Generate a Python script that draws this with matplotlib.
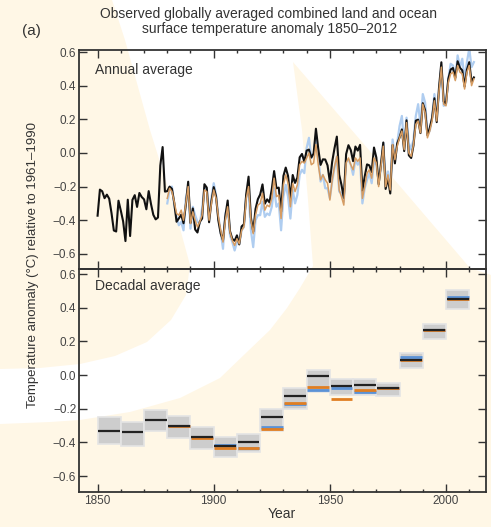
import numpy as np
import matplotlib
matplotlib.use("Agg")
import matplotlib.pyplot as plt
from matplotlib.patches import Polygon, Rectangle
from matplotlib.ticker import MultipleLocator, FuncFormatter

# ---------------- data ----------------
had_years = list(range(1850, 2013))
had_annual = [
    -0.373, -0.218, -0.228, -0.269, -0.248, -0.272, -0.358, -0.461, -0.467, -0.284,
    -0.343, -0.407, -0.524, -0.278, -0.494, -0.279, -0.251, -0.321, -0.238, -0.262,
    -0.276, -0.335, -0.227, -0.304, -0.368, -0.395, -0.384, -0.075, 0.035, -0.230,
    -0.227, -0.200, -0.213, -0.296, -0.409, -0.389, -0.367, -0.418, -0.307, -0.171,
    -0.416, -0.330, -0.455, -0.473, -0.410, -0.390, -0.186, -0.206, -0.412, -0.289,
    -0.203, -0.259, -0.402, -0.479, -0.520, -0.377, -0.283, -0.465, -0.511, -0.522,
    -0.490, -0.544, -0.437, -0.424, -0.244, -0.141, -0.383, -0.468, -0.333, -0.275,
    -0.247, -0.187, -0.302, -0.276, -0.294, -0.215, -0.108, -0.210, -0.206, -0.350,
    -0.137, -0.087, -0.137, -0.273, -0.131, -0.178, -0.147, -0.026, -0.006, -0.052,
    0.014, 0.020, -0.027, -0.004, 0.144, 0.025, -0.071, -0.038, -0.039, -0.074,
    -0.173, -0.052, 0.028, 0.097, -0.129, -0.190, -0.267, -0.007, 0.046, 0.017,
    -0.049, 0.038, 0.014, 0.048, -0.223, -0.140, -0.068, -0.074, -0.113, 0.032,
    -0.027, -0.186, -0.065, 0.062, -0.214, -0.149, -0.241, 0.047, -0.062, 0.057,
    0.092, 0.140, 0.011, 0.194, -0.014, -0.030, 0.045, 0.192, 0.198, 0.118,
    0.296, 0.254, 0.105, 0.148, 0.208, 0.325, 0.183, 0.390, 0.539, 0.306,
    0.294, 0.441, 0.496, 0.505, 0.447, 0.545, 0.506, 0.491, 0.395, 0.494,
    0.540, 0.422, 0.449,
]

other_years = list(range(1880, 2013))
noaa_annual = [
    -0.27, -0.21, -0.23, -0.29, -0.36, -0.37, -0.34, -0.40, -0.30, -0.20,
    -0.42, -0.35, -0.40, -0.44, -0.41, -0.37, -0.22, -0.23, -0.40, -0.30,
    -0.22, -0.27, -0.38, -0.46, -0.53, -0.40, -0.32, -0.47, -0.52, -0.55,
    -0.51, -0.54, -0.46, -0.44, -0.27, -0.20, -0.40, -0.48, -0.37, -0.31,
    -0.30, -0.24, -0.34, -0.31, -0.32, -0.27, -0.15, -0.26, -0.25, -0.39,
    -0.19, -0.13, -0.18, -0.32, -0.18, -0.23, -0.19, -0.07, -0.05, -0.06,
    -0.03, 0.00, -0.07, -0.06, 0.05, -0.07, -0.16, -0.13, -0.16, -0.18,
    -0.28, -0.16, -0.08, -0.02, -0.22, -0.26, -0.31, -0.06, -0.03, -0.07,
    -0.10, -0.03, -0.05, -0.03, -0.27, -0.20, -0.12, -0.10, -0.15, -0.03,
    -0.06, -0.20, -0.08, 0.04, -0.20, -0.13, -0.22, 0.05, -0.04, 0.04,
    0.09, 0.13, 0.02, 0.18, 0.00, -0.02, 0.05, 0.17, 0.19, 0.12,
    0.29, 0.24, 0.09, 0.13, 0.19, 0.31, 0.19, 0.37, 0.51, 0.29,
    0.28, 0.42, 0.47, 0.48, 0.43, 0.52, 0.48, 0.47, 0.38, 0.48,
    0.52, 0.40, 0.44,
]
giss_annual = [
    -0.30, -0.22, -0.20, -0.31, -0.38, -0.43, -0.41, -0.46, -0.27, -0.20,
    -0.45, -0.32, -0.37, -0.41, -0.42, -0.33, -0.21, -0.21, -0.37, -0.27,
    -0.18, -0.25, -0.38, -0.47, -0.57, -0.36, -0.32, -0.49, -0.53, -0.58,
    -0.53, -0.54, -0.46, -0.44, -0.25, -0.24, -0.46, -0.56, -0.40, -0.37,
    -0.37, -0.29, -0.38, -0.36, -0.37, -0.32, -0.21, -0.32, -0.30, -0.46,
    -0.26, -0.19, -0.26, -0.39, -0.22, -0.30, -0.25, -0.13, -0.10, -0.12,
    0.03, 0.09, -0.03, -0.01, 0.10, -0.01, -0.17, -0.13, -0.21, -0.21,
    -0.27, -0.17, -0.09, -0.02, -0.23, -0.24, -0.29, -0.05, -0.04, -0.07,
    -0.13, -0.04, -0.07, -0.05, -0.30, -0.21, -0.16, -0.12, -0.18, -0.05,
    -0.07, -0.18, -0.09, 0.06, -0.17, -0.11, -0.20, 0.08, -0.03, 0.06,
    0.16, 0.22, 0.04, 0.21, 0.06, 0.02, 0.08, 0.22, 0.29, 0.17,
    0.35, 0.30, 0.12, 0.13, 0.21, 0.35, 0.23, 0.36, 0.51, 0.28,
    0.29, 0.44, 0.53, 0.52, 0.44, 0.58, 0.51, 0.56, 0.44, 0.54,
    0.62, 0.51, 0.54,
]

decades = [1850, 1860, 1870, 1880, 1890, 1900, 1910, 1920, 1930, 1940,
           1950, 1960, 1970, 1980, 1990, 2000]
had_dec = [-0.33, -0.34, -0.265, -0.30, -0.37, -0.42, -0.395, -0.25, -0.125, -0.005,
           -0.065, -0.06, -0.075, 0.09, 0.265, 0.45]
had_dec_hi = [-0.25, -0.28, -0.21, -0.245, -0.31, -0.37, -0.35, -0.20, -0.08, 0.03,
              -0.025, -0.025, -0.05, 0.13, 0.305, 0.505]
had_dec_lo = [-0.41, -0.42, -0.335, -0.375, -0.44, -0.49, -0.46, -0.33, -0.20, -0.10,
              -0.12, -0.12, -0.125, 0.04, 0.215, 0.39]
other_decades = [1880, 1890, 1900, 1910, 1920, 1930, 1940, 1950, 1960, 1970, 1980, 1990, 2000]
noaa_dec = [-0.30, -0.375, -0.435, -0.435, -0.32, -0.165, -0.07, -0.145, -0.09, -0.075, 0.09, 0.265, 0.45]
giss_dec = [-0.30, -0.37, -0.415, -0.435, -0.31, -0.175, -0.09, -0.08, -0.10, -0.08, 0.105, 0.265, 0.465]

title_lines = ["Observed globally averaged combined land and ocean",
               "surface temperature anomaly 1850\u20132012"]
ylabel = "Temperature anomaly (\u00b0C) relative to 1961\u20131990"

# ---------------- style ----------------
W, H = 491, 527
CREAM = "#FFF7E6"
TXT = "#333333"
plt.rcParams["font.family"] = ["Liberation Sans", "DejaVu Sans"]

fig = plt.figure(figsize=(W / 100, H / 100), dpi=100)
fig.patch.set_facecolor(CREAM)


def fp(pts):
    return [(x / W, 1 - y / H) for x, y in pts]


white_pts = [
    (112, 0), (125, 40), (150, 130), (175, 210), (190, 265), (186, 295), (171, 320),
    (147, 342), (115, 356), (80, 364), (40, 368), (0, 369),
    (0, 424), (50, 422), (80, 420), (130, 412), (180, 398), (220, 378), (247, 352),
    (270, 330), (287, 308), (300, 288), (313, 266), (308, 200), (302, 130), (293, 62),
    (375, 157), (470, 268), (491, 275), (491, 0),
]
fig.add_artist(Polygon(fp(white_pts), closed=True, transform=fig.transFigure,
                       facecolor="white", edgecolor="none", zorder=-10))

L, R = 79 / W, 485.5 / W
ax1 = fig.add_axes([L, 1 - 269 / H, R - L, (269 - 50) / H])
ax2 = fig.add_axes([L, 1 - 492 / H, R - L, (492 - 269) / H])

fmt = FuncFormatter(lambda v, p: ("%.1f" % v).replace("-", "\u2212") if abs(v) > 1e-9 else "0.0")
for ax in (ax1, ax2):
    ax.set_facecolor("none")
    ax.set_xlim(1842, 2017)
    ax.xaxis.set_major_locator(MultipleLocator(50))
    ax.xaxis.set_minor_locator(MultipleLocator(10))
    ax.yaxis.set_major_locator(MultipleLocator(0.2))
    ax.yaxis.set_major_formatter(fmt)
    ax.tick_params(which="both", direction="in", top=True, right=True,
                   colors="#333333", labelcolor="#444444", labelsize=8.5, pad=2)
    ax.tick_params(which="major", length=5.5, width=1.0)
    ax.tick_params(which="minor", length=2.5, width=1.0)
    for s in ax.spines.values():
        s.set_linewidth(1.3)
        s.set_color("#333333")

ax1.set_ylim(-0.69, 0.612)
ax2.set_ylim(-0.695, 0.63)
ax1.tick_params(labelbottom=False)
ax2.set_xlabel("Year", fontsize=10, color=TXT, labelpad=0)

# annual
ax1.plot(other_years, giss_annual, color="#AFCDF0", lw=1.6, zorder=2)
ax1.plot(had_years, had_annual, color="#111111", lw=1.5, zorder=3)
ax1.plot(other_years, noaa_annual, color="#D69C62", lw=1.1, zorder=4)
ax1.text(0.04, 0.94, "Annual average", transform=ax1.transAxes, fontsize=10,
         color=TXT, va="top", ha="left")

# decadal
for d, lo, hi in zip(decades, had_dec_lo, had_dec_hi):
    ax2.add_patch(Rectangle((d, lo), 10, hi - lo, facecolor="#CDCDCD",
                            edgecolor="#E4E4E4", lw=1.2, zorder=2))
for d, v in zip(other_decades, giss_dec):
    ax2.plot([d + 0.3, d + 9.7], [v, v], color="#5B92D6", lw=2.0, zorder=3,
             solid_capstyle="butt")
for d, v in zip(other_decades, noaa_dec):
    ax2.plot([d + 0.3, d + 9.7], [v, v], color="#E07E22", lw=2.0, zorder=4,
             solid_capstyle="butt")
for d, v in zip(decades, had_dec):
    ax2.plot([d + 0.3, d + 9.7], [v, v], color="#222222", lw=1.6, zorder=5,
             solid_capstyle="butt")
ax2.text(0.04, 0.955, "Decadal average", transform=ax2.transAxes, fontsize=10,
         color=TXT, va="top", ha="left")

# titles and labels
fig.text(269 / W, 1 - 14 / H, title_lines[0], fontsize=10, color=TXT, ha="center", va="center")
fig.text(270 / W, 1 - 29 / H, title_lines[1], fontsize=10, color=TXT, ha="center", va="center")
fig.text(31 / W, 1 - 31 / H, "(a)", fontsize=11, color=TXT, ha="center", va="center")
fig.text(33 / W, 1 - 265 / H, ylabel, fontsize=9.5, color=TXT, ha="center", va="center",
         rotation=90)

fig.savefig("out.png", dpi=100, facecolor=fig.get_facecolor())
